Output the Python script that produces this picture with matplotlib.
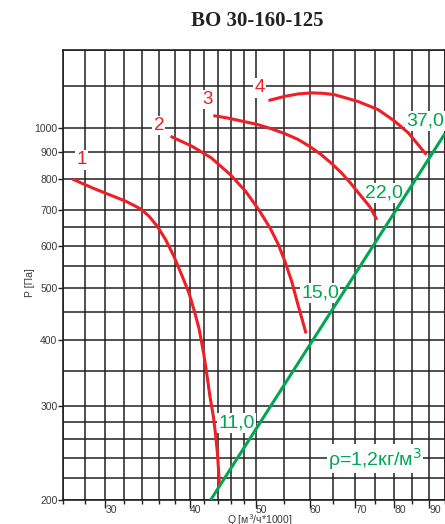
import numpy as np
import matplotlib
matplotlib.use('Agg')
import matplotlib.pyplot as plt
from matplotlib.ticker import FixedLocator, NullFormatter, FixedFormatter

RED = '#ee1f26'
GREEN = '#00a651'
GRID = '#231f20'
TXT = '#3a3a3a'

# fan curves, Q [m3/h*1000] vs P [Pa]
q1 = [26.86, 28.74, 30.41, 32.17, 33.85, 34.82, 35.81, 36.84, 37.89, 38.97,
      39.87, 40.55, 41.24, 41.9, 42.4, 42.8, 43.3, 43.6, 43.9, 44.1, 44.2]
p1 = [801, 771, 749, 728, 704, 682, 653, 616, 573, 526,
      489, 455, 420, 377, 341, 313, 287, 267, 245, 224, 212]
q2 = [37.45, 40.3, 43.0, 45.9, 48.3, 50.5, 52.5, 54.0, 55.2, 56.5, 57.7, 59.3]
p2 = [964, 923, 878, 816, 760, 702, 648, 603, 561, 514, 465, 411]
q3 = [43.3, 45.5, 47.6, 50.2, 52.7, 55.2, 57.7, 60.0, 62.4, 64.6, 66.8, 68.8,
      70.7, 73.6, 75.4]
p3 = [1054, 1043, 1030, 1015, 996, 975, 951, 923, 891, 858, 824, 790,
      757, 711, 672]
q4 = [52.2, 55.2, 57.8, 60.4, 62.8, 65.3, 70.7, 75.7, 80.1, 83.9, 86.7, 89.2]
p4 = [1125, 1146, 1158, 1163, 1161, 1154, 1121, 1082, 1029, 978, 930, 890]

# system line (rho = 1.2)
q_sys = [42.9, 95.0]
p_sys = [200, 976]

curve_labels = ['1', '2', '3', '4']
curve_lab_q = [27.7, 36.0, 42.4, 50.7]
curve_lab_p = [871, 1010, 1130, 1189]

power_labels = ['11,0', '15,0', '22,0']
power_lab_q = [46.8, 62.2, 77.2]
power_lab_p = [279, 490, 755]

x_major = [30, 40, 50, 60, 70, 80, 90]
x_minor = [26, 28, 32, 34, 36, 38, 42, 44, 46, 48, 55, 65, 75, 85, 95]
y_major = [200, 300, 400, 500, 600, 700, 800, 900, 1000]
y_minor = [220, 240, 260, 280, 350, 450, 550, 650, 1200, 1400]

plt.rcParams['font.family'] = ['Liberation Sans', 'DejaVu Sans']

fig = plt.figure(figsize=(4.45, 5.24), dpi=100)
ax = fig.add_axes([63 / 445, 24 / 524, 382 / 445, 450 / 524])
ax.set_xscale('log')
ax.set_yscale('log')
ax.set_xlim(26, 95)
ax.set_ylim(200, 1400)

ax.xaxis.set_major_locator(FixedLocator(x_major))
ax.xaxis.set_minor_locator(FixedLocator(x_minor))
ax.xaxis.set_major_formatter(FixedFormatter([str(v) for v in x_major]))
ax.xaxis.set_minor_formatter(NullFormatter())
ax.yaxis.set_major_locator(FixedLocator(y_major))
ax.yaxis.set_minor_locator(FixedLocator(y_minor))
ax.yaxis.set_major_formatter(FixedFormatter([str(v) for v in y_major]))
ax.yaxis.set_minor_formatter(NullFormatter())

ax.grid(True, which='both', color=GRID, lw=1.1)
ax.set_axisbelow(True)
for s in ax.spines.values():
    s.set_color(GRID)
    s.set_linewidth(1.2)

ax.tick_params(axis='x', which='major', length=6, width=1, color=GRID,
               labelsize=7.5, labelcolor=TXT, pad=-2.5)
ax.tick_params(axis='x', which='minor', length=3, width=1, color=GRID)
ax.tick_params(axis='y', which='major', length=3.5, width=1, color=GRID,
               labelsize=7.5, labelcolor=TXT, pad=0.5)
ax.tick_params(axis='y', which='minor', length=0)
for lab in ax.get_xticklabels():
    lab.set_horizontalalignment('left')

for q, p in [(q1, p1), (q2, p2), (q3, p3), (q4, p4)]:
    ax.plot(q, p, color=RED, lw=2.2, solid_capstyle='butt',
            solid_joinstyle='round', zorder=4)
ax.plot(q_sys, p_sys, color=GREEN, lw=2.2, solid_capstyle='butt', zorder=4)

box = dict(facecolor='white', edgecolor='none', pad=1.0)
for t, q, p in zip(curve_labels, curve_lab_q, curve_lab_p):
    ax.text(q, p, t, color=RED, fontsize=13.5, ha='center', va='center',
            bbox=box, zorder=3)
for t, q, p in zip(power_labels, power_lab_q, power_lab_p):
    ax.text(q, p, t, color=GREEN, fontsize=14, ha='center', va='center',
            bbox=box, zorder=3)
ax.text(83.3, 1031, '37,0', color=GREEN, fontsize=14, ha='left', va='center',
        bbox=box, zorder=3, clip_on=False)
ax.text(74.9, 239, 'ρ=1,2кг/м$^3$', color=GREEN, fontsize=14, ha='center',
        va='center', bbox=box, zorder=3)

fig.text(257 / 445, 1 - 21 / 524, 'BO 30-160-125', family='Liberation Serif',
         weight='bold', fontsize=15, ha='center', va='center', color='#222222')
fig.text(30 / 445, 1 - 283 / 524, 'P [Па]', rotation=90, fontsize=7.5,
         color=TXT, ha='center', va='center')
fig.text(260 / 445, 1 - 520 / 524, 'Q [м$^3$/ч*1000]', fontsize=7.5,
         color=TXT, ha='center', va='center')

fig.savefig('out.png', dpi=100)
